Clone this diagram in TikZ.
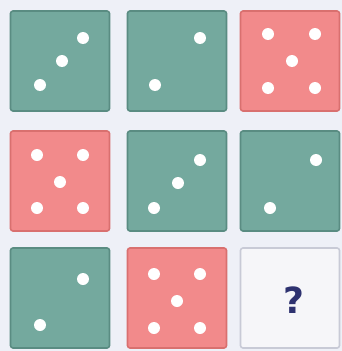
\documentclass[tikz,border=0pt]{standalone}
\usepackage{fontspec}
\newfontfamily\qfont{DejaVu Sans}
\usepackage{tikz}
\usetikzlibrary{positioning}
\definecolor{dicebg}{HTML}{EEF0F7}
\definecolor{diceteal}{HTML}{74A99E}
\definecolor{tealedge}{HTML}{5A8C82}
\definecolor{dicepink}{HTML}{F28A8B}
\definecolor{pinkedge}{HTML}{D9706F}
\definecolor{qfill}{HTML}{F6F6F9}
\definecolor{qedge}{HTML}{C8CAD6}
\definecolor{qmark}{HTML}{2E3270}

\begin{document}
\begin{tikzpicture}[x=1pt,y=-1pt,
  die/.style={rectangle,draw,line width=1.6pt,rounded corners=2.5pt,
    minimum width=99pt,minimum height=100pt,inner sep=0pt},
  teal/.style={die,fill=diceteal,draw=tealedge},
  pink/.style={die,fill=dicepink,draw=pinkedge},
  pip/.style={circle,fill=white,minimum size=12pt,inner sep=0pt}]
  \fill[dicebg] (0,0) rectangle (342,351);
  \useasboundingbox (0,0) rectangle (342,351);
  % top row
  \node[teal] (d11) at (60,61) {};
  \node[teal] (d12) at (177,61) {};
  \node[pink] (d13) at (290,61) {};
  % middle row
  \node[pink] (d21) at (60,181) {};
  \node[teal] (d22) at (177,181) {};
  \node[teal] (d23) at (290,181) {};
  % bottom row
  \node[teal] (d31) at (60,298) {};
  \node[pink] (d32) at (177,298) {};
  \node[die,fill=qfill,draw=qedge] (d33) at (290,298) {};
  \node[font=\qfont\bfseries\fontsize{36}{36}\selectfont,text=qmark]
    (qm) at (294,300) {?};
  % pips
  \node[pip] at (40,85) {};
  \node[pip] at (62,61) {};
  \node[pip] at (83,38) {};
  \node[pip] at (155,85) {};
  \node[pip] at (200,38) {};
  \foreach \x/\y in {268/34,315/34,292/61,268/88,315/88}
    \node[pip] at (\x,\y) {};
  \foreach \x/\y in {37/155,83/155,60/182,37/208,83/208}
    \node[pip] at (\x,\y) {};
  \node[pip] at (154,208) {};
  \node[pip] at (178,183) {};
  \node[pip] at (200,160) {};
  \node[pip] at (270,208) {};
  \node[pip] at (316,160) {};
  \node[pip] at (40,325) {};
  \node[pip] at (83,279) {};
  \foreach \x/\y in {154/274,200/274,177/301,154/328,200/328}
    \node[pip] at (\x,\y) {};
\end{tikzpicture}
\end{document}
